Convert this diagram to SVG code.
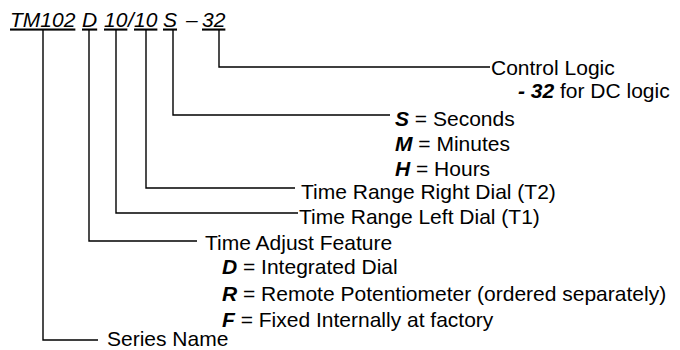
<svg xmlns="http://www.w3.org/2000/svg" width="680" height="350" viewBox="0 0 680 350">
<style>
text{font-family:"Liberation Sans",Arial,Helvetica,sans-serif;font-size:21px;fill:#000}
.t{font-style:italic}
.u{text-decoration:underline}
.b{font-weight:bold;font-style:italic}
.c{fill:none;stroke:#000;stroke-width:1.4}
</style>
<rect width="680" height="350" fill="#fff"/>
<g id="title">
<text class="t" y="26.5"><tspan x="10" class="u">TM102</tspan><tspan x="82" class="u">D</tspan><tspan x="104" class="u">10</tspan><tspan x="128">/</tspan><tspan x="134" class="u">10</tspan><tspan x="163" class="u">S</tspan><tspan x="186">–</tspan><tspan x="202" class="u">32</tspan></text>
</g>
<g id="connectors">
<path class="c" d="M43,29V340H98"/>
<path class="c" d="M89,29V241H197"/>
<path class="c" d="M116,29V213H298"/>
<path class="c" d="M146,29V188H295"/>
<path class="c" d="M173,29V115H390"/>
<path class="c" d="M219,29V67H490"/>
</g>
<g id="control-logic">
<text x="491" y="75">Control Logic</text>
<text x="518" y="98"><tspan class="b">- 32</tspan> for DC logic</text>
</g>
<g id="time-units">
<text x="395" y="126"><tspan class="b">S</tspan> = Seconds</text>
<text x="395" y="151"><tspan class="b">M</tspan> = Minutes</text>
<text x="395" y="176"><tspan class="b">H</tspan> = Hours</text>
</g>
<g id="right-dial">
<text x="301" y="199">Time Range Right Dial (T2)</text>
</g>
<g id="left-dial">
<text x="299" y="224">Time Range Left Dial (T1)</text>
</g>
<g id="time-adjust">
<text x="205" y="250">Time Adjust Feature</text>
<text x="222" y="274"><tspan class="b">D</tspan> = Integrated Dial</text>
<text x="222" y="301"><tspan class="b">R</tspan> = Remote Potentiometer (ordered separately)</text>
<text x="222" y="327"><tspan class="b">F</tspan> = Fixed Internally at factory</text>
</g>
<g id="series-name">
<text x="107" y="345.5">Series Name</text>
</g>
</svg>
